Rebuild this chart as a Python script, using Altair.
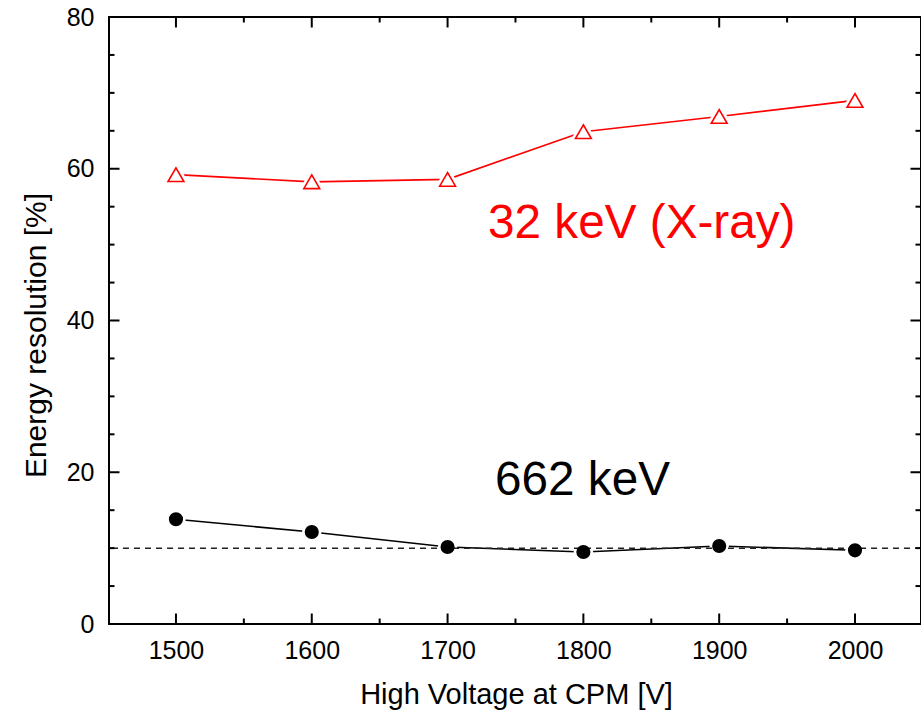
import altair as alt
import pandas as pd

# Measured energy resolution vs. CPM high voltage
voltage = [1500, 1600, 1700, 1800, 1900, 2000]
res_32kev = [59.22, 58.28, 58.6, 64.88, 66.89, 69.0]
res_662kev = [13.8, 12.13, 10.15, 9.49, 10.28, 9.71]
reference_level = [10]

# Tick positions (drawn inward on all four sides)
x_major = [1500, 1600, 1700, 1800, 1900, 2000]
x_minor = [1550, 1650, 1750, 1850, 1950]
y_major = [0, 20, 40, 60, 80]
y_minor = [5, 10, 15, 25, 30, 35, 45, 50, 55, 65, 70, 75]

# Series annotations
note_text = ["32 keV (X-ray)", "662 keV"]
note_x = [1729.8, 1734.9]
note_y = [50.87, 16.96]
note_color = ["#ff0000", "#000000"]

W, H = 812, 607
FONT = "Liberation Sans, Arial, sans-serif"
MAJ, MIN = 10.5, 5.5

xscale = alt.Scale(domain=[1450.7, 2048.6], nice=False, zero=False)
yscale = alt.Scale(domain=[0, 80], nice=False, zero=False)

xaxis = alt.Axis(
    title="High Voltage at CPM [V]", values=x_major, format="d",
    ticks=False, tickSize=0, domain=False, grid=False,
    labelFont=FONT, labelFontSize=25, labelColor="black", labelPadding=14,
    titleFont=FONT, titleFontSize=29, titleFontWeight="normal", titleColor="black",
    titleX=407, titleY=79, titleBaseline="alphabetic", titleAlign="center",
)
yaxis = alt.Axis(
    title="Energy resolution [%]", values=y_major, format="d",
    ticks=False, tickSize=0, domain=False, grid=False,
    labelFont=FONT, labelFontSize=25, labelColor="black", labelPadding=15,
    titleFont=FONT, titleFontSize=30, titleFontWeight="normal", titleColor="black",
    titleX=-73, titleY=318, titleAngle=-90, titleBaseline="middle", titleAlign="center",
)

red_df = pd.DataFrame({"v": voltage, "r": res_32kev})
blk_df = pd.DataFrame({"v": voltage, "r": res_662kev})

# every layer shares the same axis definitions so they merge into one
X = alt.X("v:Q", scale=xscale, axis=xaxis)
Y = alt.Y("r:Q", scale=yscale, axis=yaxis)

red_line = alt.Chart(red_df).mark_line(color="#ff0000", strokeWidth=1.7).encode(x=X, y=Y)
blk_line = alt.Chart(blk_df).mark_line(color="black", strokeWidth=1.6).encode(x=X, y=Y)

# white halos leave a small gap between the connecting lines and the markers
red_halo = alt.Chart(red_df).mark_point(
    shape="triangle-up", size=250, filled=True, fill="white",
    stroke="white", strokeWidth=7, opacity=1,
).encode(x=X, y=Y)
blk_halo = alt.Chart(blk_df).mark_circle(size=380, color="white", opacity=1).encode(x=X, y=Y)

ref_line = alt.Chart(pd.DataFrame({"r": reference_level})).mark_rule(
    color="#222222", strokeWidth=1.5, strokeDash=[6, 5]
).encode(y=Y)

red_pts = alt.Chart(red_df).mark_point(
    shape="triangle-up", size=250, filled=True, fill="white",
    stroke="#ff0000", strokeWidth=1.6, opacity=1,
).encode(x=X, y=Y)
blk_pts = alt.Chart(blk_df).mark_circle(size=200, color="black", opacity=1).encode(x=X, y=Y)

xmaj_df = pd.DataFrame({"v": x_major})
xmin_df = pd.DataFrame({"v": x_minor})
ymaj_df = pd.DataFrame({"r": y_major})
ymin_df = pd.DataFrame({"r": y_minor})

tick = dict(color="black", strokeWidth=2)
ticks = [
    alt.Chart(xmaj_df).mark_rule(**tick).encode(x=X, y=alt.value(H), y2=alt.value(H - MAJ)),
    alt.Chart(xmaj_df).mark_rule(**tick).encode(x=X, y=alt.value(0), y2=alt.value(MAJ)),
    alt.Chart(xmin_df).mark_rule(**tick).encode(x=X, y=alt.value(H), y2=alt.value(H - MIN)),
    alt.Chart(xmin_df).mark_rule(**tick).encode(x=X, y=alt.value(0), y2=alt.value(MIN)),
    alt.Chart(ymaj_df).mark_rule(**tick).encode(y=Y, x=alt.value(0), x2=alt.value(MAJ)),
    alt.Chart(ymaj_df).mark_rule(**tick).encode(y=Y, x=alt.value(W), x2=alt.value(W - MAJ)),
    alt.Chart(ymin_df).mark_rule(**tick).encode(y=Y, x=alt.value(0), x2=alt.value(MIN)),
    alt.Chart(ymin_df).mark_rule(**tick).encode(y=Y, x=alt.value(W), x2=alt.value(W - MIN)),
]

# heavy frame around the plot area
frame_df = pd.DataFrame({"k": [0]})
frame = [
    alt.Chart(frame_df).mark_rule(**tick).encode(x=alt.value(0), y=alt.value(-1), y2=alt.value(H + 1)),
    alt.Chart(frame_df).mark_rule(**tick).encode(x=alt.value(W), y=alt.value(-1), y2=alt.value(H + 1)),
    alt.Chart(frame_df).mark_rule(**tick).encode(y=alt.value(0), x=alt.value(-1), x2=alt.value(W + 1)),
    alt.Chart(frame_df).mark_rule(**tick).encode(y=alt.value(H), x=alt.value(-1), x2=alt.value(W + 1)),
]

notes_df = pd.DataFrame({"t": note_text, "v": note_x, "r": note_y, "c": note_color})
notes = alt.Chart(notes_df).mark_text(
    font=FONT, fontSize=47.7, align="left", baseline="alphabetic"
).encode(
    x=X, y=Y, text="t:N",
    color=alt.Color("c:N", scale=None),
)

chart = alt.layer(
    red_line, blk_line, red_halo, blk_halo, ref_line, red_pts, blk_pts, *ticks, *frame, notes
).properties(
    width=W, height=H,
    padding={"left": 109, "top": 17, "right": 0, "bottom": 86},
    autosize=alt.AutoSizeParams(type="none"),
    background="white",
).configure_view(
    stroke=None, fill="white"
)

chart.save("out.html", embed_options={"renderer": "svg", "actions": False})
